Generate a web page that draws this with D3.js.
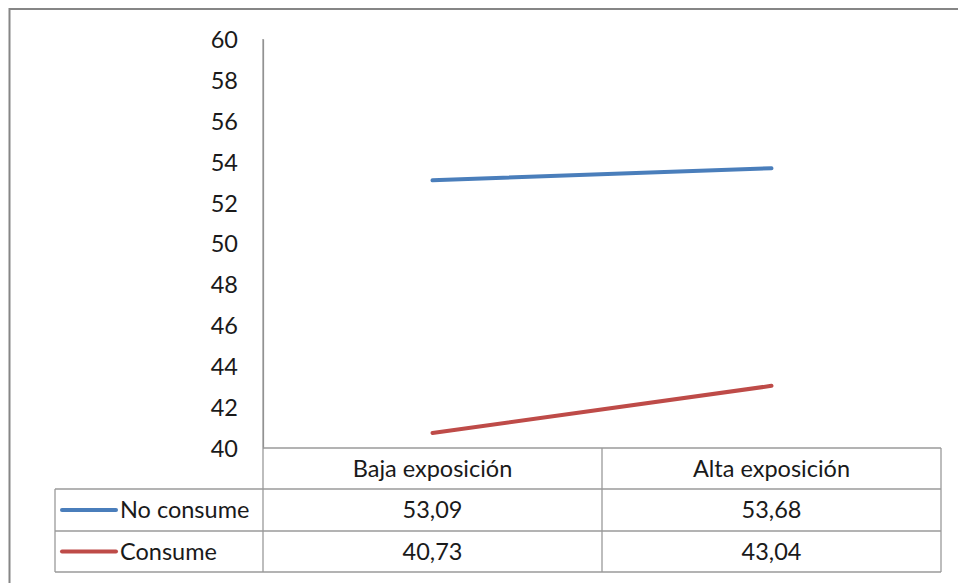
<!DOCTYPE html>
<html><head><meta charset="utf-8">
<script src="https://cdn.jsdelivr.net/npm/d3@7"></script>
<style>body{margin:0;background:#fff}svg{display:block}text{font-family:Lato,"Open Sans",sans-serif;fill:#1a1a1a}</style>
</head><body><svg id="c" width="958" height="583"></svg>
<script>
const categories = ["Baja exposición", "Alta exposición"];
const seriesNames = ["No consume", "Consume"];
const noConsume = [53.09, 53.68];
const consume = [40.73, 43.04];
const valueLabels = [["53,09", "53,68"], ["40,73", "43,04"]];
const yTicks = [40, 42, 44, 46, 48, 50, 52, 54, 56, 58, 60];
const colors = ["#4A7EBB", "#BE4B48"];

(function () {
const svg = d3.select("#c");
const fs = 23.5;
// outer frame
svg.append("rect").attr("x", 9.5).attr("y", 9).attr("width", 960).attr("height", 590)
  .attr("fill", "none").attr("stroke", "#868686").attr("stroke-width", 2);

const pL = 263, pR = 941, pT = 39, pB = 448;
const x = d3.scaleBand().domain(categories).range([pL, pR]);
const y = d3.scaleLinear().domain([40, 60]).range([pB, pT]);

// y axis
const ya = svg.append("g").attr("transform", `translate(${pL},0)`)
  .call(d3.axisLeft(y).tickValues(yTicks).tickSize(0).tickPadding(25));
ya.select(".domain").attr("stroke", "#868686").attr("stroke-width", 1.2);
ya.selectAll("text").attr("font-size", fs).attr("font-family", "Lato").attr("fill", "#1a1a1a")
  .attr("dy", "0.36em");

// table
const tableLeft = 55;
const rows = [pB, 489, 531, 572];
const g = svg.append("g").attr("stroke", "#9a9a9a").attr("stroke-width", 1.3).attr("fill", "none");
g.append("line").attr("x1", pL).attr("x2", pR).attr("y1", rows[0]).attr("y2", rows[0]);
[1, 2, 3].forEach(i => g.append("line").attr("x1", tableLeft).attr("x2", pR).attr("y1", rows[i]).attr("y2", rows[i]));
g.append("line").attr("x1", pL).attr("x2", pL).attr("y1", pT).attr("y2", rows[3]);
g.append("line").attr("x1", tableLeft).attr("x2", tableLeft).attr("y1", rows[1]).attr("y2", rows[3]);
categories.forEach(c => {
  g.append("line").attr("x1", x(c) + x.bandwidth()).attr("x2", x(c) + x.bandwidth()).attr("y1", rows[0]).attr("y2", rows[3]);
});

// header labels
categories.forEach(c => {
  svg.append("text").attr("x", x(c) + x.bandwidth() / 2).attr("y", (rows[0] + rows[1]) / 2)
    .attr("dy", "0.36em").attr("text-anchor", "middle").attr("font-size", fs).text(c);
});
// rows
const series = [noConsume, consume];
series.forEach((s, i) => {
  const cy = (rows[i + 1] + rows[i + 2]) / 2;
  svg.append("line").attr("x1", 62).attr("x2", 116).attr("y1", cy).attr("y2", cy)
    .attr("stroke", colors[i]).attr("stroke-width", 4).attr("stroke-linecap", "round");
  svg.append("text").attr("x", 120).attr("y", cy).attr("dy", "0.36em").attr("font-size", fs).text(seriesNames[i]);
  categories.forEach((c, j) => {
    svg.append("text").attr("x", x(c) + x.bandwidth() / 2).attr("y", cy).attr("dy", "0.36em")
      .attr("text-anchor", "middle").attr("font-size", fs).text(valueLabels[i][j]);
  });
  const line = d3.line().x((d, j) => x(categories[j]) + x.bandwidth() / 2).y(d => y(d));
  svg.append("path").datum(s).attr("d", line).attr("fill", "none")
    .attr("stroke", colors[i]).attr("stroke-width", 4).attr("stroke-linecap", "round");
});
})();
</script></body></html>
